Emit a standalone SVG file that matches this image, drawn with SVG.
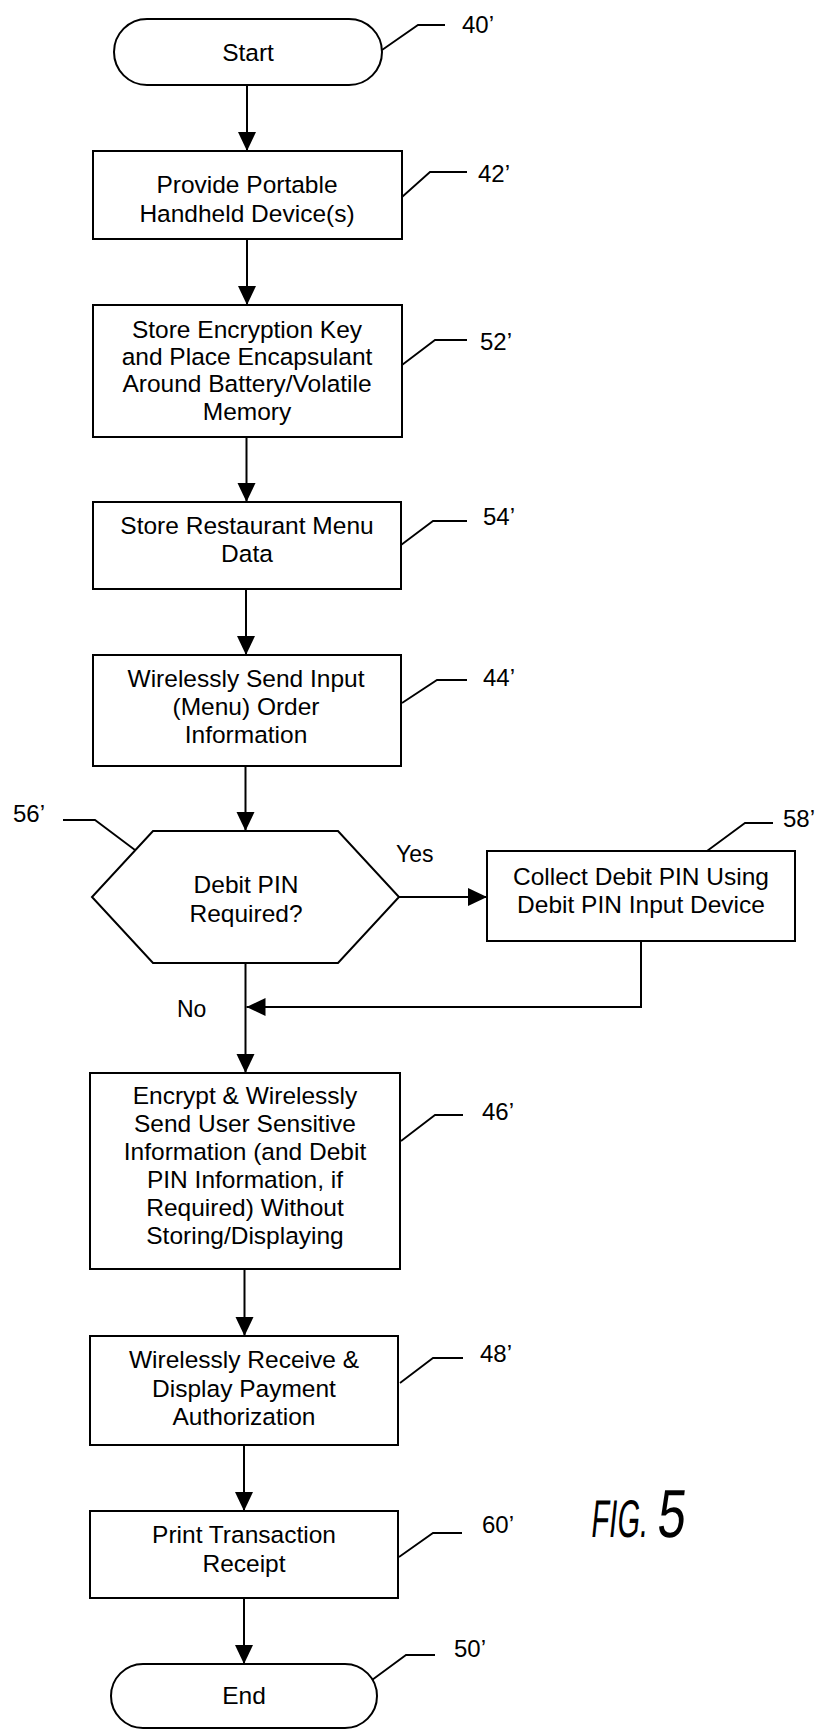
<svg xmlns="http://www.w3.org/2000/svg" width="824" height="1729" viewBox="0 0 824 1729">
<style>
.s{fill:#fff;stroke:#000;stroke-width:2}
.t{font-family:"Liberation Sans",Arial,sans-serif;font-size:24.5px;fill:#000;text-anchor:middle}
.r{font-family:"Liberation Sans",Arial,sans-serif;font-size:24px;fill:#000}
.c{fill:none;stroke:#000;stroke-width:2}
.l{fill:none;stroke:#000;stroke-width:1.8}
</style>
<defs>
<marker id="ah" markerUnits="userSpaceOnUse" markerWidth="20" markerHeight="20" refX="19" refY="9" orient="auto">
<path d="M0,0 L19,9 L0,18 z" fill="#000"/>
</marker>
</defs>
<rect width="824" height="1729" fill="#fff"/>
<g id="connectors">
<line class="c" x1="247" y1="85" x2="247" y2="151" marker-end="url(#ah)"/>
<line class="c" x1="247" y1="239" x2="247" y2="305" marker-end="url(#ah)"/>
<line class="c" x1="246.5" y1="437" x2="246.5" y2="502" marker-end="url(#ah)"/>
<line class="c" x1="246" y1="589" x2="246" y2="655" marker-end="url(#ah)"/>
<line class="c" x1="245.5" y1="766" x2="245.5" y2="831" marker-end="url(#ah)"/>
<line class="c" x1="399" y1="897" x2="487" y2="897" marker-end="url(#ah)"/>
<line class="c" x1="245.5" y1="963" x2="245.5" y2="1073" marker-end="url(#ah)"/>
<polyline class="c" points="641,941 641,1007 246.5,1007" marker-end="url(#ah)"/>
<line class="c" x1="244.5" y1="1269" x2="244.5" y2="1336" marker-end="url(#ah)"/>
<line class="c" x1="244" y1="1445" x2="244" y2="1511" marker-end="url(#ah)"/>
<line class="c" x1="244" y1="1598" x2="244" y2="1664" marker-end="url(#ah)"/>
<text class="r" x="396" y="862" style="font-size:23px">Yes</text>
<text class="r" x="177" y="1017" style="font-size:23px">No</text>
</g>
<g id="n40">
<rect class="s" x="114" y="19" width="268" height="66" rx="33"/>
<text class="t" x="248" y="61">Start</text>
</g>
<g id="n42">
<rect class="s" x="93" y="151" width="309" height="88"/>
<text class="t" x="247" y="193">Provide Portable</text>
<text class="t" x="247" y="222">Handheld Device(s)</text>
</g>
<g id="n52">
<rect class="s" x="93" y="305" width="309" height="132"/>
<text class="t" x="247" y="338">Store Encryption Key</text>
<text class="t" x="247" y="365">and Place Encapsulant</text>
<text class="t" x="247" y="392">Around Battery/Volatile</text>
<text class="t" x="247" y="420">Memory</text>
</g>
<g id="n54">
<rect class="s" x="93" y="502" width="308" height="87"/>
<text class="t" x="247" y="534">Store Restaurant Menu</text>
<text class="t" x="247" y="562">Data</text>
</g>
<g id="n44">
<rect class="s" x="93" y="655" width="308" height="111"/>
<text class="t" x="246" y="687">Wirelessly Send Input</text>
<text class="t" x="246" y="715">(Menu) Order</text>
<text class="t" x="246" y="743">Information</text>
</g>
<g id="n56">
<polygon class="s" points="153,831 338,831 399,897 338,963 153,963 92,897"/>
<text class="t" x="246" y="893">Debit PIN</text>
<text class="t" x="246" y="922">Required?</text>
</g>
<g id="n58">
<rect class="s" x="487" y="851" width="308" height="90"/>
<text class="t" x="641" y="885">Collect Debit PIN Using</text>
<text class="t" x="641" y="913">Debit PIN Input Device</text>
</g>
<g id="n46">
<rect class="s" x="90" y="1073" width="310" height="196"/>
<text class="t" x="245" y="1104">Encrypt &amp; Wirelessly</text>
<text class="t" x="245" y="1132">Send User Sensitive</text>
<text class="t" x="245" y="1160">Information (and Debit</text>
<text class="t" x="245" y="1188">PIN Information, if</text>
<text class="t" x="245" y="1216">Required) Without</text>
<text class="t" x="245" y="1244">Storing/Displaying</text>
</g>
<g id="n48">
<rect class="s" x="90" y="1336" width="308" height="109"/>
<text class="t" x="244" y="1368">Wirelessly Receive &amp;</text>
<text class="t" x="244" y="1397">Display Payment</text>
<text class="t" x="244" y="1425">Authorization</text>
</g>
<g id="n60">
<rect class="s" x="90" y="1511" width="308" height="87"/>
<text class="t" x="244" y="1543">Print Transaction</text>
<text class="t" x="244" y="1572">Receipt</text>
</g>
<g id="n50">
<rect class="s" x="111" y="1664" width="266" height="64" rx="32"/>
<text class="t" x="244" y="1704">End</text>
</g>
<g id="refs">
<polyline class="l" points="382,50 418,25 445,25"/>
<text class="r" x="462" y="33">40’</text>
<polyline class="l" points="402,197 430,172 467,172"/>
<text class="r" x="478" y="182">42’</text>
<polyline class="l" points="402,365 435,340 467,340"/>
<text class="r" x="480" y="350">52’</text>
<polyline class="l" points="401,545 433,521 467,521"/>
<text class="r" x="483" y="525">54’</text>
<polyline class="l" points="402,703 437,680 467,680"/>
<text class="r" x="483" y="686">44’</text>
<polyline class="l" points="63,820 95,820 135,850"/>
<text class="r" x="13" y="822">56’</text>
<polyline class="l" points="707,851 745,823 773,823"/>
<text class="r" x="783" y="827">58’</text>
<polyline class="l" points="401,1141 435,1115 463,1115"/>
<text class="r" x="482" y="1120">46’</text>
<polyline class="l" points="400,1383 433,1358 463,1358"/>
<text class="r" x="480" y="1362">48’</text>
<polyline class="l" points="399,1557 433,1533 462,1533"/>
<text class="r" x="482" y="1533">60’</text>
<polyline class="l" points="372,1680 406,1655 435,1655"/>
<text class="r" x="454" y="1657">50’</text>
</g>
<g id="figlabel">
<text transform="translate(590,1537) skewX(-6) scale(0.55,1)" style="font-family:'Liberation Sans',Arial,sans-serif;font-size:53px">FIG.</text>
<text transform="translate(656,1537) skewX(-6) scale(0.74,1)" style="font-family:'Liberation Sans',Arial,sans-serif;font-size:68px">5</text>
</g>
</svg>
